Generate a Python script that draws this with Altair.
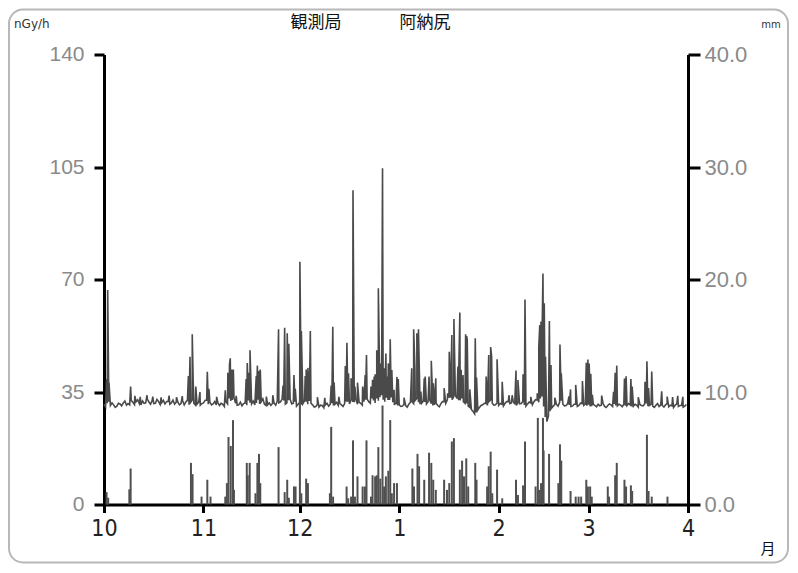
import altair as alt
import pandas as pd

START = pd.Timestamp("2021-10-01")

# Dose-rate baseline (nGy/h), one value per day at 00h and 12h, Oct 1 .. Mar 31
base_am = [
    31.2, 31.5, 30.8, 31.0, 30.6, 31.3, 31.6, 30.9, 31.0, 31.8, 32.0, 31.4, 32.2, 31.6, 31.9, 32.3, 31.5, 32.0, 31.7, 31.3, 32.1, 31.6, 31.2, 31.9, 31.4, 31.0, 32.4, 31.8, 31.5, 31.2, 30.9,
    31.6, 32.5, 31.8, 31.3, 31.0, 30.8, 31.2, 32.0, 33.0, 32.5, 31.5, 31.0, 30.7, 31.6, 32.4, 31.3, 31.0, 32.6, 32.0, 31.2, 31.0, 30.8, 31.5, 32.2, 31.9, 32.4, 31.6, 32.8, 31.5, 30.6,
    31.8, 31.4, 32.0, 32.2, 31.0, 30.5, 30.3, 30.8, 31.0, 30.6, 31.5, 31.2, 30.9, 31.0, 31.4, 32.0, 32.6, 31.8, 31.2, 31.5, 32.0, 32.8, 31.5, 32.4, 33.0, 33.4, 32.6, 33.2, 32.5, 31.8, 31.4,
    31.0, 30.6, 30.8, 31.2, 32.0, 32.4, 31.8, 31.5, 31.9, 32.0, 31.4, 31.0, 30.8, 31.4, 32.0, 32.6, 33.2, 33.6, 33.0, 32.4, 32.0, 31.4, 30.2, 29.0, 28.6, 30.2, 31.0, 31.4, 32.0, 31.5, 31.0,
    30.8, 31.2, 31.5, 32.0, 31.6, 31.2, 31.8, 31.4, 31.0, 31.3, 31.6, 32.0, 32.5, 33.0, 30.5, 25.8, 29.0, 30.6, 31.2, 31.8, 31.2, 30.8, 31.0, 30.6, 31.2, 30.8, 31.4, 31.2,
    31.0, 30.6, 30.8, 31.2, 30.9, 30.5, 30.8, 31.0, 31.3, 30.7, 30.9, 31.2, 30.8, 31.0, 30.6, 30.9, 31.1, 30.7, 31.4, 30.8, 30.6, 30.9, 30.5, 30.8, 31.0, 30.4, 30.7, 30.9, 30.5, 30.8, 30.6,
]
base_pm = [
    30.4, 32.0, 31.6, 30.2, 31.5, 30.7, 32.2, 31.4, 32.3, 31.1, 32.6, 31.0, 31.5, 32.8, 31.2, 31.4, 32.7, 31.1, 32.4, 32.0, 31.2, 32.5, 31.8, 31.0, 32.3, 31.9, 31.0, 32.5, 30.9, 31.8, 31.4,
    32.4, 31.2, 31.0, 32.0, 31.6, 31.5, 30.5, 31.3, 32.2, 33.4, 30.9, 31.8, 31.4, 30.9, 31.7, 32.2, 31.6, 31.3, 32.9, 30.8, 31.6, 31.4, 30.9, 31.6, 32.8, 31.2, 32.4, 31.3, 32.0, 31.2,
    31.0, 32.3, 31.2, 31.5, 30.3, 31.1, 30.9, 30.1, 31.5, 31.2, 30.8, 31.8, 31.4, 30.5, 32.0, 31.3, 31.9, 32.7, 31.8, 30.9, 32.6, 32.0, 33.0, 31.6, 32.3, 34.0, 32.0, 32.5, 33.3, 31.2, 30.8,
    30.5, 31.2, 30.3, 31.8, 31.4, 33.0, 31.2, 32.1, 31.3, 32.6, 30.8, 31.5, 30.4, 32.0, 31.5, 33.2, 32.6, 34.0, 32.4, 33.0, 31.5, 30.6, 29.5, 28.2, 29.4, 30.8, 31.5, 30.8, 32.5, 30.9, 31.6,
    31.4, 30.7, 32.0, 31.4, 32.2, 30.8, 31.3, 32.0, 30.6, 31.9, 31.0, 32.6, 31.8, 33.6, 27.2, 27.5, 30.0, 31.1, 30.6, 32.3, 30.7, 31.4, 30.5, 31.2, 30.5, 31.5, 30.8, 30.7,
    30.5, 31.2, 30.4, 30.7, 31.5, 30.2, 31.3, 30.5, 30.8, 31.2, 30.4, 30.7, 31.4, 30.5, 31.2, 30.3, 30.8, 31.3, 30.6, 31.2, 30.2, 31.4, 30.9, 30.3, 31.4, 30.9, 30.2, 31.3, 30.8, 30.3, 31.1,
]

# Dose-rate peaks: day offset from Oct 1, value (nGy/h)
spike_day = [0.8, 1.15, 1.55, 8.3, 9.6, 11.3, 13.4, 15.2, 17.8, 20.3, 22.6, 24.4, 26.3, 26.8, 27.5, 27.8, 28.6, 29.9,
             32.2, 32.7, 35.1, 37.8, 38.6, 39.1, 39.35, 39.8, 40.3, 41.2, 44.3, 44.65, 45.1, 45.5, 47.45, 47.8, 48.2, 48.7,
             50.6, 52.6, 54.4, 55.8, 56.3, 57.1, 57.6, 59.2, 59.6, 61.05, 61.5, 62.7, 63.0, 63.55, 64.3, 66.5, 68.8, 70.8,
             71.3, 71.7, 73.2, 75.2, 75.7, 76.2, 77.0, 77.6, 78.2, 79.0, 80.6, 81.4, 81.8, 83.2, 83.7, 84.2, 84.5, 85.0,
             85.5, 85.9, 86.3, 86.8, 87.3, 87.85, 88.3, 88.6, 89.2, 89.7, 90.4, 91.3, 91.7, 93.5, 95.9, 96.5, 96.9, 97.5,
             98.0, 98.75, 99.8, 100.1, 101.3, 102.0, 102.6, 103.4, 106.0, 107.1, 107.6, 108.4, 109.05, 110.3, 110.6, 110.9,
             111.3, 111.9, 112.7, 113.0, 113.2, 114.0, 115.7, 116.1, 119.1, 119.9, 120.5, 120.8, 122.5, 124.1, 126.2, 127.2,
             128.4, 129.0, 130.6, 131.2, 133.0, 135.0, 135.5, 135.8, 136.2, 136.5, 136.8, 137.2, 137.6, 138.8, 139.3, 140.5,
             142.1, 142.5, 144.9, 145.4, 147.0, 149.1, 150.3, 150.8, 151.2, 151.7, 152.2, 155.1, 158.8, 159.3, 159.8, 162.2,
             162.7, 164.2, 164.6, 166.5, 168.6, 169.2, 169.7, 170.7, 173.8, 175.5, 177.2, 178.8, 180.4]
spike_val = [39, 66.7, 38, 36.7, 33.8, 33.5, 34.0, 33.6, 33.3, 33.9, 33.4, 33.7, 40, 46, 53, 38, 36.7, 35,
             41.3, 36, 33.5, 35.5, 41, 43.5, 45.5, 42, 42, 33.8, 39, 44, 41, 48, 40, 43.2, 41.5, 42,
             33.6, 34, 54.5, 37, 55, 53.3, 50, 40.3, 36, 75.5, 54, 40, 42, 42.5, 54, 33.4, 33.2, 37,
             55.3, 38, 33.5, 43.1, 50.3, 40.8, 39.3, 97.8, 36.7, 37.9, 36.7, 40.3, 46.5, 36.7, 38.8, 39.8, 40.5, 48,
             67.3, 39.8, 43.9, 104.6, 42.4, 47, 39.8, 43.9, 51.4, 41.8, 35.7, 39.7, 39, 33.2, 42.4, 54.5, 42.4, 53.3,
             54.5, 35.1, 39.3, 39.8, 39.8, 44.7, 37.7, 39.3, 36.2, 34.6, 47.5, 52.7, 57.7, 42.9, 43.4, 59.7,
             41.9, 40.3, 53, 52.4, 51.3, 35.8, 51.7, 39.5, 39.8, 46.5, 49, 46, 45.2, 38.2, 34, 34,
             41.7, 38.7, 40.5, 63.8, 33.5, 34.6, 49, 55.8, 56.9, 51.2, 71.9, 62.6, 46, 57.1, 43.4, 33.2,
             49.8, 40.8, 33.6, 35.8, 37.2, 38.4, 44.1, 45.1, 43.9, 40.7, 34.1, 33.9, 35.1, 41, 43.2, 39.2,
             39.9, 39, 36.7, 33.4, 38.2, 44.6, 36.2, 41.4, 35.2, 33.6, 33.4, 33.8, 33.5]

# Precipitation (mm): day offset from Oct 1, amount
rain_day = [0.8, 1.3, 7.9, 8.3, 27.1, 27.6, 30.4, 32.2, 33.2, 37.8, 38.3, 38.8, 39.5, 40.2, 40.5, 44.5, 44.8, 45.4,
            47.2, 47.8, 48.3, 48.7, 54.4, 56.3, 57.1, 57.6, 59.2, 59.7, 61.05, 61.5, 63.0, 63.55, 70.4, 70.8, 71.4,
            75.6, 76.1, 77.0, 77.6, 78.2, 79.0, 80.6, 81.3, 81.8, 83.2, 83.7, 84.5, 85.0, 85.5, 86.1, 86.8, 87.3,
            87.85, 88.6, 89.2, 89.7, 90.4, 91.3, 96.1, 96.6, 97.7, 98.2, 99.8, 101.3, 102.0, 102.6, 103.4, 106.0,
            106.9, 107.6, 108.4, 109.05, 110.9, 111.6, 112.2, 112.9, 113.5, 115.7, 116.1, 119.4, 119.9, 120.5, 121.0,
            122.5, 124.1, 128.4, 129.0, 130.6, 131.2, 134.5, 135.2, 135.6, 136.2, 136.8, 137.0, 138.7, 141.6, 142.1,
            142.5, 145.4, 147.0, 147.9, 148.7, 150.3, 150.8, 151.5, 152.0, 157.0, 157.4, 159.3, 159.8, 162.2, 162.7,
            164.2, 164.6, 169.2, 169.7, 170.7, 175.6]
rain_mm = [1.1, 0.6, 1.35, 3.2, 3.7, 2.7, 0.7, 2.2, 0.7, 0.7, 1.9, 6.0, 5.2, 7.5, 1.3, 3.7, 2.6, 3.7,
           1.0, 3.7, 4.5, 1.9, 5.1, 1.1, 2.2, 0.6, 1.6, 1.6, 9.4, 1.0, 2.3, 1.9, 1.0, 6.9, 0.7,
           1.6, 0.55, 0.7, 5.7, 0.7, 2.5, 1.6, 1.6, 5.7, 0.7, 2.6, 2.5, 2.6, 5.1, 2.3, 8.8, 1.6,
           2.5, 3.0, 7.5, 1.0, 1.9, 1.9, 3.2, 1.6, 4.5, 3.4, 2.2, 4.6, 3.7, 2.2, 1.3, 2.2,
           1.3, 1.9, 5.6, 5.9, 3.1, 3.9, 2.5, 4.1, 1.6, 3.7, 2.2, 1.6, 3.4, 4.7, 1.0,
           3.1, 0.55, 2.2, 0.85, 1.7, 5.6, 1.6, 7.7, 1.3, 1.9, 7.7, 4.8, 4.5, 1.9, 5.35,
           3.9, 1.2, 0.7, 0.7, 0.7, 2.2, 1.6, 1.6, 0.7, 1.6, 0.7, 2.6, 3.7, 2.2, 1.6,
           1.7, 1.2, 6.2, 1.2, 0.7, 0.7]

month_ticks = [(2021, 10), (2021, 11), (2021, 12), (2022, 1), (2022, 2), (2022, 3), (2022, 4)]
left_ticks = [0, 35, 70, 105, 140]
right_ticks = [0, 10, 20, 30, 40]


def ts(d):
    return (START + pd.to_timedelta(d, unit="D")).strftime("%Y-%m-%dT%H:%M:%S")


pts = []
for i, (a, b) in enumerate(zip(base_am, base_pm)):
    pts.append((i, a))
    pts.append((i + 0.5, b))
pts += list(zip(spike_day, spike_val))
pts.sort(key=lambda p: p[0])
dose = pd.DataFrame({"t": [ts(d) for d, _ in pts], "v": [v for _, v in pts]})
rain = pd.DataFrame({"t": [ts(d) for d in rain_day], "mm": rain_mm})

W, H = 584, 450
xdom = [alt.DateTime(year=2021, month=10, date=1), alt.DateTime(year=2022, month=4, date=1)]
xscale = alt.Scale(domain=xdom, padding=0, nice=False)
NUMFONT = "Liberation Sans Narrow, DejaVu Sans Condensed, Liberation Sans, sans-serif"

xaxis = alt.Axis(
    values=[alt.DateTime(year=y, month=m, date=1) for y, m in month_ticks],
    format="%-m", title=None, grid=False, domainColor="black", domainWidth=3,
    tickColor="black", tickWidth=3, tickSize=8, labelFont=NUMFONT, labelFontSize=23,
    labelColor="#222", labelPadding=5, labelFlush=False, labelFontWeight="normal",
)

dose_line = alt.Chart(dose).mark_line(color="#4a4a4a", strokeWidth=1.6, interpolate="linear").encode(
    x=alt.X("t:T", scale=xscale, axis=xaxis),
    y=alt.Y("v:Q", scale=alt.Scale(domain=[0, 140], nice=False, zero=True),
            axis=alt.Axis(values=left_ticks, title=None, grid=False, orient="left",
                          domainColor="black", domainWidth=3, tickColor="black", tickWidth=3,
                          tickSize=10, labelFont="Liberation Sans, sans-serif", labelFontSize=21,
                          labelColor="#8a8a8a", labelPadding=10)),
)

rain_bars = alt.Chart(rain).mark_bar(color="#505050", size=2).encode(
    x=alt.X("t:T", scale=xscale, axis=xaxis),
    y=alt.Y("mm:Q", scale=alt.Scale(domain=[0, 40], nice=False),
            axis=alt.Axis(values=right_ticks, format=".1f", title=None, grid=False, orient="right",
                          domainColor="black", domainWidth=3, tickColor="black", tickWidth=3,
                          tickSize=12, labelFont="Liberation Sans, sans-serif", labelFontSize=22,
                          labelColor="#8a8a8a", labelPadding=4)),
)

one = pd.DataFrame({"k": [0]})
border = alt.Chart(one).mark_rect(fill=None, stroke="#b8b8b8", strokeWidth=2, cornerRadius=14).encode(
    x=alt.value(-95), x2=alt.value(W + 100), y=alt.value(-45), y2=alt.value(H + 58)
)


def label(txt, x, y, size, color="#111", font="Noto Sans CJK JP", align="center"):
    return alt.Chart(pd.DataFrame({"s": [txt]})).mark_text(
        font=font, fontSize=size, color=color, align=align, baseline="middle"
    ).encode(text="s:N", x=alt.value(x), y=alt.value(y))


texts = [
    label("観測局", 316 - 104, 23 - 54.5, 17),
    label("阿納尻", 425 - 104, 23 - 54.5, 17),
    label("nGy/h", 14 - 104, 24 - 54.5, 12, color="#333", font="DejaVu Sans", align="left"),
    label("mm", 771 - 104, 25 - 54.5, 10, color="#333", font="DejaVu Sans"),
    label("月", 768 - 104, 549 - 54.5, 15),
]

chart = alt.layer(dose_line, rain_bars, border, *texts).resolve_scale(
    y="independent", x="shared"
).resolve_axis(x="shared").properties(
    width=W, height=H, background="white",
    autosize=alt.AutoSizeParams(type="none"),
    padding={"left": 96, "top": 46.5, "right": 102, "bottom": 60},
).configure_view(stroke=None)

chart.save("out.html", embed_options={"renderer": "svg", "actions": False})
